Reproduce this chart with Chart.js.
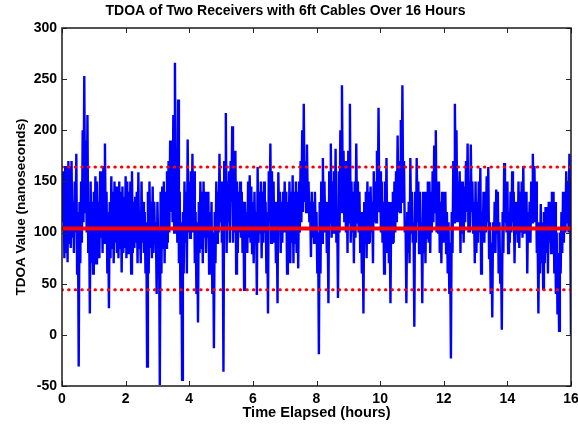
<!DOCTYPE html>
<html>
<head>
<meta charset="utf-8">
<script src="https://cdn.jsdelivr.net/npm/chart.js@4.4.1/dist/chart.umd.min.js"></script>
<style>
html,body{margin:0;padding:0;background:#fff;}
#wrap{width:578px;height:427px;position:relative;}
</style>
</head>
<body>
<div id="wrap"><canvas id="c" width="578" height="427"></canvas></div>
<script>
// Time step between samples (hours)
const timeStepHours = 0.025;
// TDOA samples (nanoseconds), one every 0.025 h (40 per hour)
const tdoaValues = [
  160,110,150,75,165,80,140,71,170,90,165,85,170,95,130,80,150,100,177,60,120,-31,130,70,150,90,200,110,253,120,190,100,215,80,130,21,150,70,130,60,
  140,85,155,70,150,90,130,75,160,95,145,80,165,90,187,95,140,60,120,26,130,75,155,85,140,70,150,90,145,80,130,75,150,85,140,61,145,80,135,85,
  155,75,150,80,140,95,150,60,160,80,130,85,135,90,140,70,159,85,120,70,150,90,130,80,120,60,110,-31,140,60,150,85,130,75,145,80,130,90,110,40,
  130,90,100,-49,140,60,145,85,150,70,140,85,160,90,170,100,190,120,180,110,215,100,266,130,180,90,230,70,140,20,110,-44,120,60,150,90,140,60,191,100,
  150,95,160,110,177,100,160,70,120,40,110,12,130,80,150,85,140,70,150,95,140,80,130,95,140,60,120,70,130,40,100,-13,120,70,150,90,140,100,177,110,
  150,90,120,-36,170,110,217,80,150,110,160,90,170,130,204,90,160,100,180,60,150,80,140,100,150,95,140,80,130,44,130,90,120,80,150,95,156,90,145,80,
  130,70,140,90,120,39,164,90,140,100,150,75,140,90,150,100,130,60,120,21,160,110,187,90,160,100,150,90,130,70,110,31,159,110,140,80,130,90,140,100,
  150,100,140,60,130,90,150,70,140,90,156,70,140,90,150,80,140,65,150,100,170,110,200,120,226,130,170,120,186,130,150,110,130,76,140,95,130,90,140,100,
  120,60,100,-19,130,60,150,90,173,110,150,100,130,80,110,31,160,110,187,95,150,100,160,110,182,90,120,36,160,100,200,120,244,140,180,110,170,100,150,80,
  180,110,226,90,150,100,140,70,150,95,187,110,150,100,140,80,120,60,110,21,130,90,140,75,150,90,140,90,145,100,130,70,160,110,150,110,180,120,222,120,
  160,100,150,90,130,60,150,100,173,80,130,70,110,31,130,90,140,90,150,100,160,110,195,120,170,120,210,130,244,130,170,100,110,31,120,80,130,70,173,100,
  140,90,110,8,140,90,173,110,150,80,140,90,110,31,140,80,130,70,140,95,150,90,150,80,140,100,160,110,185,120,200,100,150,100,150,80,130,70,140,90,
  140,90,140,80,120,60,110,40,90,-23,120,80,170,110,226,140,200,110,150,110,160,80,150,100,150,90,145,110,170,120,187,100,150,100,186,120,150,100,130,70,
  150,80,130,90,150,100,163,60,120,90,140,90,140,100,155,110,164,75,110,40,90,17,110,80,130,80,142,100,140,60,110,50,80,5,120,80,168,110,130,100,
  150,80,120,90,140,100,160,110,140,70,130,100,130,90,150,85,140,100,150,95,165,100,140,100,140,60,120,90,130,90,150,110,177,130,165,110,150,80,100,21,
  110,60,128,70,110,45,120,70,125,80,125,60,130,90,130,80,140,100,140,60,130,40,100,20,80,4,100,60,120,80,140,90,140,100,160,110,150,100,177,120,
  0
];
// Reference lines (nanoseconds)
const meanValue = 104;
const upperBound = 164;
const lowerBound = 44;
// Axis ranges and tick labels
const xTicks = [0,2,4,6,8,10,12,14,16];
const yTicks = [-50,0,50,100,150,200,250,300];

const tdoaPoints = tdoaValues.map((v,i)=>({x:+(i*timeStepHours).toFixed(3), y:v}));
const xMin = xTicks[0], xMax = xTicks[xTicks.length-1];
const hLine = v => [{x:xMin,y:v},{x:xMax,y:v}];

const FONT = 'Liberation Sans, Arial, Helvetica, sans-serif';

const frameTicks = {
  id:'frameTicks',
  afterDraw(chart){
    const {ctx, chartArea:a, scales} = chart;
    ctx.save();
    ctx.strokeStyle = '#262626';
    ctx.lineWidth = 1;
    const L = 5;
    ctx.beginPath();
    scales.x.ticks.forEach(t=>{
      const px = Math.round(scales.x.getPixelForValue(t.value))+0.5;
      ctx.moveTo(px,a.bottom); ctx.lineTo(px,a.bottom-L);
      ctx.moveTo(px,a.top); ctx.lineTo(px,a.top+L);
    });
    scales.y.ticks.forEach(t=>{
      const py = Math.round(scales.y.getPixelForValue(t.value))+0.5;
      ctx.moveTo(a.left,py); ctx.lineTo(a.left+L,py);
      ctx.moveTo(a.right,py); ctx.lineTo(a.right-L,py);
    });
    ctx.stroke();
    ctx.lineWidth = 1.5;
    ctx.strokeStyle = '#1a1a1a';
    ctx.strokeRect(a.left, a.top, a.right-a.left, a.bottom-a.top);
    ctx.restore();
  }
};

new Chart(document.getElementById('c'), {
  type:'line',
  data:{
    datasets:[
      {label:'TDOA', data:tdoaPoints, borderColor:'#0000ff', borderWidth:2.4, pointRadius:0, tension:0, order:3},
      {label:'Mean', data:hLine(meanValue), borderColor:'#ff0000', borderWidth:4, pointRadius:0, order:1},
      {label:'Upper', data:hLine(upperBound), borderColor:'#ff0000', borderWidth:3, borderDash:[0.5,6.1], borderCapStyle:'round', pointRadius:0, order:2},
      {label:'Lower', data:hLine(lowerBound), borderColor:'#ff0000', borderWidth:3, borderDash:[0.5,6.1], borderCapStyle:'round', pointRadius:0, order:2}
    ]
  },
  options:{
    responsive:false,
    animation:false,
    events:[],
    layout:{padding:{left:0,right:7,top:0,bottom:0}},
    plugins:{
      legend:{display:false},
      tooltip:{enabled:false},
      title:{display:true, text:'TDOA of Two Receivers with 6ft Cables Over 16 Hours',
        color:'#000', font:{family:FONT, size:14, weight:'bold'}, padding:{top:2.5,bottom:8.7}}
    },
    scales:{
      x:{type:'linear', min:xMin, max:xMax,
        afterBuildTicks(s){ s.ticks = xTicks.map(v=>({value:v})); },
        afterFit(s){ s.height = 41; s.paddingLeft = 0; s.paddingRight = 0; },
        grid:{display:false, drawTicks:false},
        border:{display:false},
        ticks:{color:'#000', padding:5, maxRotation:0, font:{family:FONT, size:14, weight:'bold'}},
        title:{display:true, text:'Time Elapsed (hours)', color:'#000', font:{family:FONT, size:14.6, weight:'bold'}, padding:{top:0,bottom:5.3}}
      },
      y:{type:'linear', min:yTicks[0], max:yTicks[yTicks.length-1],
        afterBuildTicks(s){ s.ticks = yTicks.map(v=>({value:v})); },
        afterFit(s){ s.width = 62; s.paddingTop = 0; s.paddingBottom = 0; },
        grid:{display:false, drawTicks:false},
        border:{display:false},
        ticks:{color:'#000', padding:5, font:{family:FONT, size:14, weight:'bold'}},
        title:{display:true, text:'TDOA Value (nanoseconds)', color:'#000', font:{family:FONT, size:13.5, weight:'bold'}, padding:{top:13.4,bottom:0}}
      }
    }
  },
  plugins:[frameTicks]
});
</script>
</body>
</html>
